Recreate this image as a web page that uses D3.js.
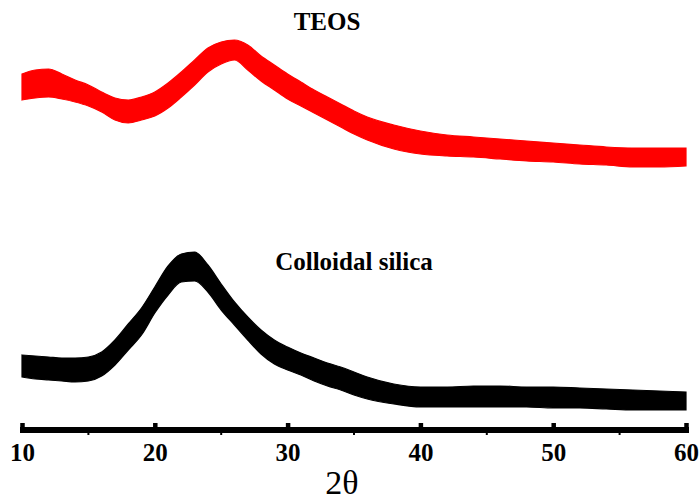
<!DOCTYPE html>
<html>
<head>
<meta charset="utf-8">
<script src="https://cdn.jsdelivr.net/npm/d3@7"></script>
<style>
  body { margin: 0; background: #fff; }
  svg { display: block; font-family: "Liberation Serif", "Times New Roman", serif; }
</style>
</head>
<body>
<div id="chart"></div>
<script>
const angles = [10, 11, 12, 13, 14, 15, 16, 17, 18, 19, 20, 21, 22, 23, 24, 25, 26, 27, 28, 29,
                30, 31, 32, 33, 34, 35, 36, 38, 40, 42, 44, 46, 48, 50, 52, 54, 56, 58, 60];

const teosUpper = [356, 360, 361, 356, 350, 345, 338, 332, 330, 333, 338, 347, 358, 370, 382, 388, 390, 385, 374, 365,
                   356, 348, 340, 333, 326, 319, 313, 305, 299, 295, 293, 291, 289, 287, 285, 283, 282, 282, 282];
const teosLower = [330, 332, 333, 331, 328, 324, 318, 310, 307, 310, 314, 322, 333, 345, 358, 366, 370, 360, 349, 340,
                   331, 324, 317, 310, 303, 296, 290, 281, 276, 274, 273, 271, 269, 268, 266, 265, 263, 263, 264];

const colloidUpper = [75, 74, 73, 72, 72, 73, 78, 90, 106, 122, 143, 164, 176, 178, 165, 146, 128, 113, 100, 90,
                      83, 77, 72, 67, 63, 58, 53, 46, 43, 43, 44, 44, 43, 43, 42, 41, 40, 39, 38];
const colloidLower = [53, 51, 50, 49, 48, 49, 54, 65, 80, 95, 117, 135, 148, 149, 138, 120, 105, 90, 76, 66,
                      60, 55, 49, 44, 40, 35, 31, 26, 23, 23, 23, 23, 23, 22, 22, 21, 20, 20, 20];

const majorTicks = [10, 20, 30, 40, 50, 60];
const minorTicks = [15, 25, 35, 45, 55];

const seriesNames = ["TEOS", "Colloidal silica"];
const seriesColors = ["#ff0000", "#000000"];

(function () {
    const W = 699, H = 500;
    const svg = d3.select("#chart").append("svg").attr("width", W).attr("height", H);

    const x = d3.scaleLinear().domain([10, 60]).range([22, 686]);
    const y = d3.scaleLinear().domain([0, 410]).range([430, 20]);

    const bands = [
        { upper: teosUpper, lower: teosLower },
        { upper: colloidUpper, lower: colloidLower }
    ];

    const area = d3.area()
        .x(d => x(d.a))
        .y0(d => y(d.lo))
        .y1(d => y(d.hi))
        .curve(d3.curveMonotoneX);

    bands.forEach((b, i) => {
        const rows = angles.map((a, k) => ({ a, hi: b.upper[k], lo: b.lower[k] }));
        svg.append("path")
            .attr("d", area(rows))
            .attr("fill", seriesColors[i])
            .attr("stroke", seriesColors[i])
            .attr("stroke-width", 1.2);
    });

    // series labels
    svg.append("text")
        .attr("x", 327).attr("y", 30)
        .attr("text-anchor", "middle")
        .attr("font-size", 25).attr("font-weight", "bold")
        .text(seriesNames[0]);
    svg.append("text")
        .attr("x", 354).attr("y", 270)
        .attr("text-anchor", "middle")
        .attr("font-size", 25).attr("font-weight", "bold")
        .text(seriesNames[1]);

    // bottom axis: thick baseline, square ticks pointing up
    const axis = d3.axisBottom(x)
        .tickValues(majorTicks)
        .tickSizeInner(-7)
        .tickSizeOuter(0)
        .tickPadding(13)
        .tickFormat(d3.format("d"));

    const gx = svg.append("g").attr("transform", "translate(0,430)").call(axis);
    gx.select(".domain")
        .attr("stroke", "#000").attr("stroke-width", 6)
        .attr("d", `M${x(10) - 2},0H${x(60) + 3}`);
    gx.selectAll(".tick line").attr("stroke", "#000").attr("stroke-width", 4.5);
    gx.selectAll(".tick text")
        .attr("fill", "#000")
        .attr("font-family", "'Liberation Serif', 'Times New Roman', serif")
        .attr("font-size", 25).attr("font-weight", "bold");

    // small minor ticks just below the baseline
    gx.selectAll(".minor")
        .data(minorTicks)
        .enter().append("line")
        .attr("class", "minor")
        .attr("x1", d => x(d)).attr("x2", d => x(d))
        .attr("y1", 2).attr("y2", 5)
        .attr("stroke", "#000").attr("stroke-width", 2);

    svg.append("text")
        .attr("x", 342).attr("y", 494)
        .attr("text-anchor", "middle")
        .attr("font-size", 34)
        .text("2θ");
})();
</script>
</body>
</html>
